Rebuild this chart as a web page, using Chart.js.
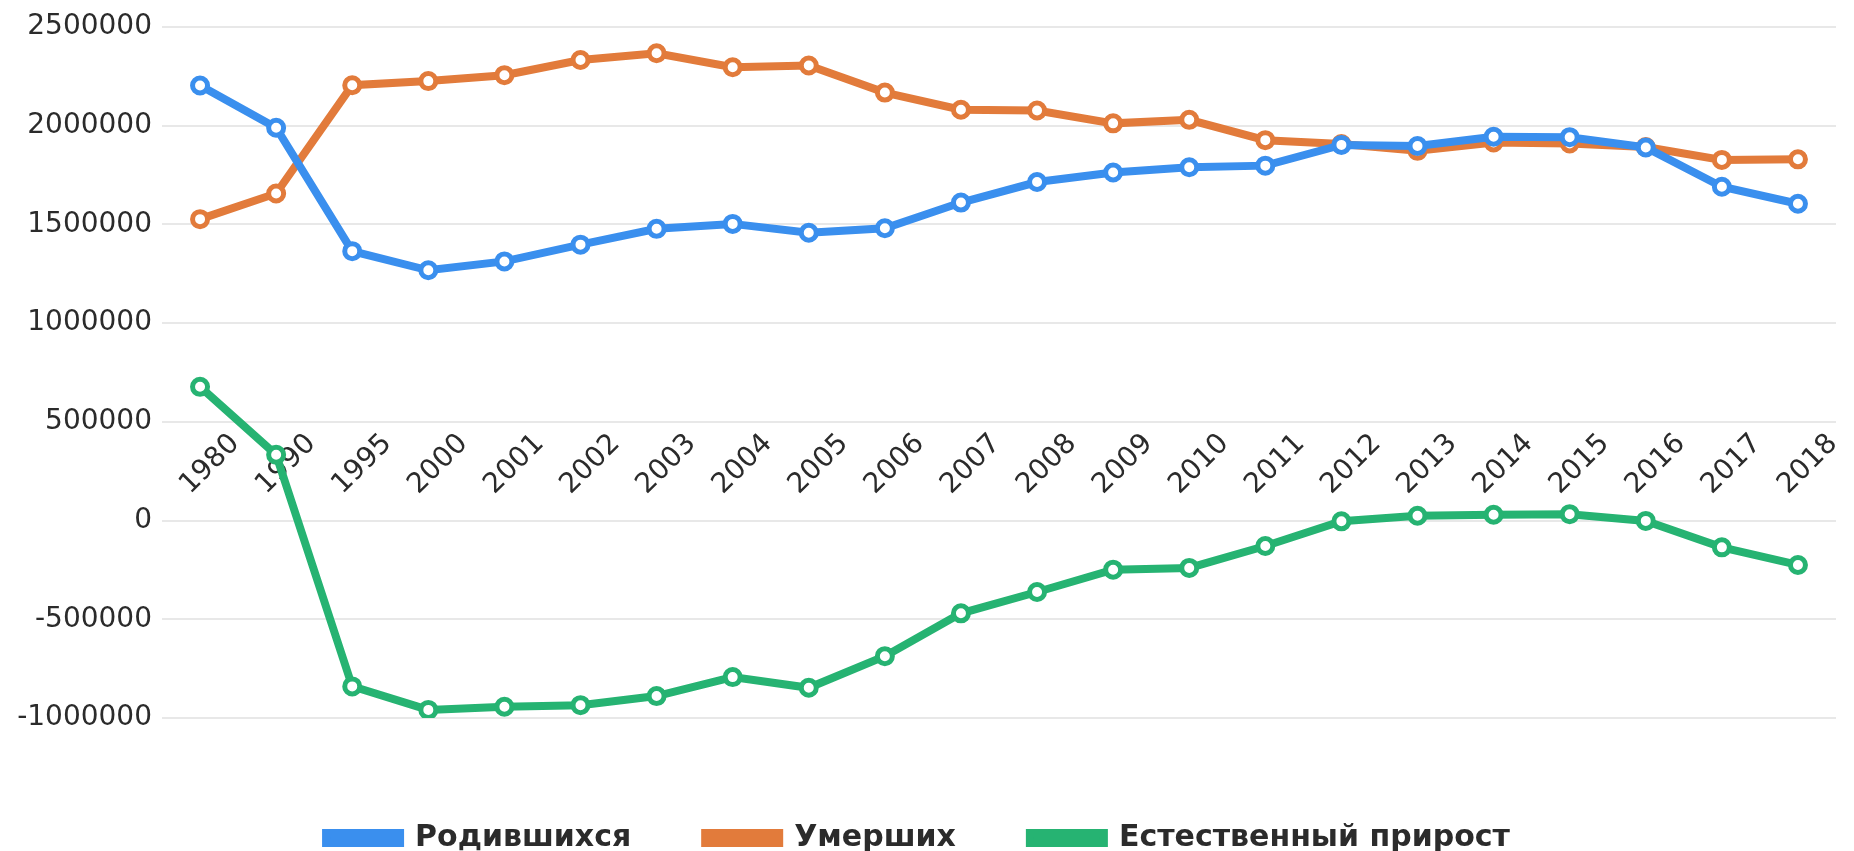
<!DOCTYPE html>
<html>
<head>
<meta charset="utf-8">
<script src="https://cdn.jsdelivr.net/npm/chart.js@4/dist/chart.umd.min.js"></script>
<style>
    body { margin: 0; background: #ffffff; }
    #wrap { width: 1854px; height: 851px; }
</style>
</head>
<body>
<div id="wrap"><canvas id="line_chart"></canvas></div>
<script>
const years = ["1980", "1990", "1995", "2000", "2001", "2002", "2003", "2004", "2005", "2006", "2007",
    "2008", "2009", "2010", "2011", "2012", "2013", "2014", "2015", "2016", "2017", "2018"]

const born = [2203000, 1989000, 1364000, 1267000, 1312000, 1397000, 1477000, 1502000, 1457000, 1480000, 1610000,
    1714000, 1762000, 1789000, 1797000, 1902000, 1896000, 1943000, 1941000, 1889000, 1690000, 1604000]

const died = [1526000, 1656000, 2204000, 2225000, 2255000, 2332000, 2366000, 2295000, 2304000, 2167000, 2080000,
    2076000, 2011000, 2029000, 1926000, 1906000, 1872000, 1914000, 1909000, 1891000, 1826000, 1829000]

const growth = [677000, 333000, -840000, -959000, -943000, -935000, -889000, -793000, -847000, -687000, -470000,
    -362000, -249000, -240000, -129000, -4000, 24000, 29000, 32000, -2000, -136000, -225000]

const series_names = ["Родившихся", "Умерших", "Естественный прирост"]
const series_colors = ["#3a8fee", "#e27b3b", "#26b372"]

const text_color = "#2b2b2b"
const font_family = "'DejaVu Sans', sans-serif"

const make_dataset = (label, data, color) => ({
    label: label,
    data: data,
    borderColor: color,
    backgroundColor: color,
    borderWidth: 8,
    pointRadius: 7.5,
    pointHoverRadius: 7.5,
    pointBorderWidth: 5,
    pointBackgroundColor: "#ffffff",
    pointBorderColor: color,
    tension: 0,
    fill: false
})

// year labels sit inside the plot, just above the zero line
const year_labels = {
    id: "year_labels",
    beforeDatasetsDraw(chart) {
        const ctx = chart.ctx
        const x_scale = chart.scales.x
        const y_scale = chart.scales.y
        const base_y = y_scale.getPixelForValue(0) - 56
        ctx.save()
        ctx.font = "28px " + font_family
        ctx.fillStyle = text_color
        ctx.textAlign = "center"
        ctx.textBaseline = "middle"
        years.forEach((year, i) => {
            ctx.save()
            ctx.translate(x_scale.getPixelForValue(i) + 10, base_y)
            ctx.rotate(-45 * Math.PI / 180)
            ctx.fillText(year, 0, 0)
            ctx.restore()
        })
        ctx.restore()
    }
}

const line_config = {
    type: "line",
    data: {
        labels: years,
        datasets: [
            make_dataset(series_names[0], born, series_colors[0]),
            make_dataset(series_names[1], died, series_colors[1]),
            make_dataset(series_names[2], growth, series_colors[2])
        ]
    },
    options: {
        responsive: true,
        maintainAspectRatio: false,
        animation: false,
        layout: {
            padding: { top: 23, right: 18, bottom: -12, left: 0 }
        },
        plugins: {
            legend: {
                position: "bottom",
                labels: {
                    boxWidth: 74,
                    boxHeight: 10,
                    padding: 74,
                    color: text_color,
                    font: { family: font_family, size: 30, weight: "bold" }
                }
            },
            tooltip: { enabled: false }
        },
        scales: {
            x: {
                offset: true,
                grid: { display: false },
                border: { display: false },
                ticks: { display: false },
                afterFit: (scale) => { scale.height = 31 }
            },
            y: {
                min: -1000000,
                max: 2500000,
                border: { display: false },
                grid: { color: "#e8e8e8", lineWidth: 2, drawTicks: false },
                ticks: {
                    stepSize: 500000,
                    padding: 10,
                    color: text_color,
                    font: { family: font_family, size: 28 },
                    callback: (value) => String(value)
                },
                afterFit: (scale) => { scale.width = 162 }
            }
        }
    },
    plugins: [year_labels]
}

var ctx_line = document.getElementById("line_chart")
var line_chart = new Chart(ctx_line, line_config)
</script>
</body>
</html>
